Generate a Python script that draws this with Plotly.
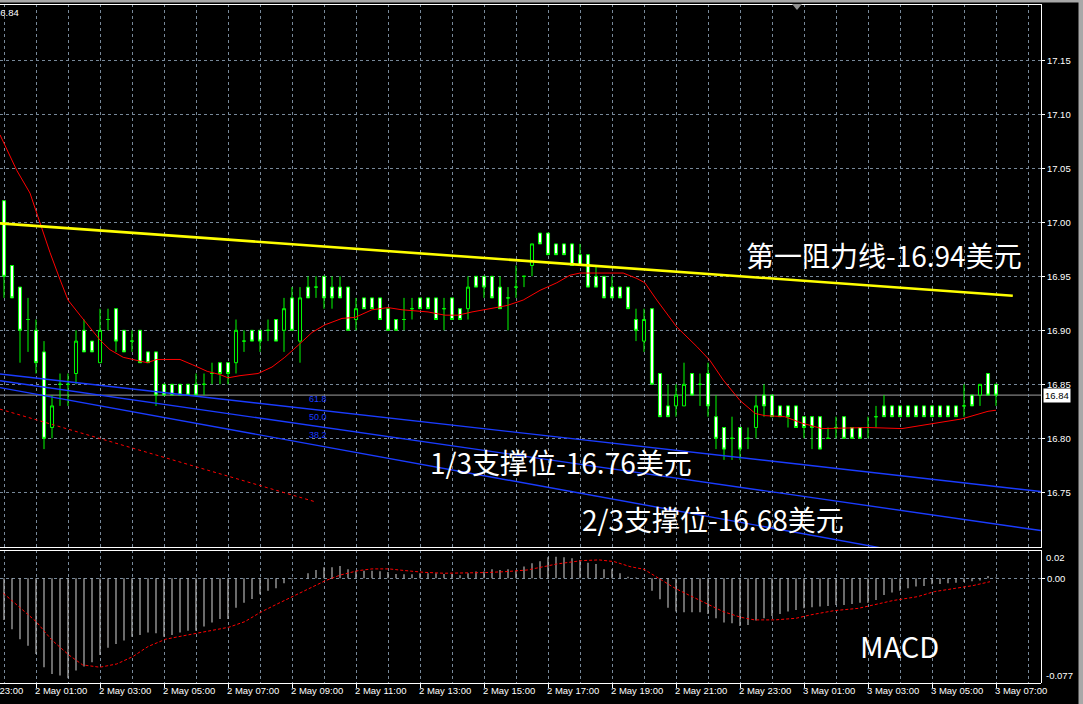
import plotly.graph_objects as go

W, H = 1083, 704

# ---------------- data (15-minute bars, bar 0 = 2 May 00:00) ----------------
bar_idx = list(range(125))
opens = [17.02, 16.96, 16.94, 16.91, 16.90, 16.88, 16.81, 16.85, 16.85, 16.86,
         16.90, 16.89, 16.87, 16.91, 16.92, 16.90, 16.89, 16.90, 16.88, 16.88,
         16.85, 16.85, 16.85, 16.85, 16.85, 16.85, 16.86, 16.87, 16.87, 16.87,
         16.89, 16.90, 16.90, 16.90, 16.91, 16.90, 16.93, 16.89, 16.94, 16.94,
         16.95, 16.94, 16.94, 16.94, 16.91, 16.93, 16.93, 16.93, 16.92, 16.91,
         16.91, 16.92, 16.93, 16.93, 16.93, 16.92, 16.93, 16.92, 16.92, 16.95,
         16.95, 16.95, 16.94, 16.93, 16.94, 16.95, 16.96, 16.99, 16.99, 16.98,
         16.98, 16.98, 16.97, 16.97, 16.95, 16.95, 16.94, 16.94, 16.94, 16.91,
         16.89, 16.92, 16.86, 16.83, 16.83, 16.83, 16.86, 16.85, 16.86, 16.82,
         16.81, 16.80, 16.81, 16.80, 16.81, 16.84, 16.84, 16.83, 16.83, 16.83,
         16.82, 16.82, 16.82, 16.80, 16.81, 16.82, 16.81, 16.81, 16.81, 16.82,
         16.83, 16.83, 16.83, 16.83, 16.83, 16.83, 16.83, 16.83, 16.83, 16.83,
         16.83, 16.84, 16.84, 16.86, 16.85]
highs = [17.02, 16.96, 16.94, 16.93, 16.91, 16.89, 16.84, 16.86, 16.86, 16.90,
         16.91, 16.89, 16.92, 16.92, 16.92, 16.90, 16.90, 16.90, 16.88, 16.88,
         16.85, 16.85, 16.85, 16.85, 16.86, 16.86, 16.87, 16.87, 16.87, 16.91,
         16.90, 16.90, 16.90, 16.91, 16.91, 16.93, 16.94, 16.94, 16.95, 16.95,
         16.95, 16.95, 16.95, 16.94, 16.93, 16.93, 16.93, 16.93, 16.92, 16.91,
         16.93, 16.93, 16.93, 16.93, 16.93, 16.93, 16.93, 16.92, 16.95, 16.95,
         16.95, 16.95, 16.95, 16.94, 16.96, 16.95, 16.98, 16.99, 16.99, 16.98,
         16.98, 16.98, 16.98, 16.97, 16.96, 16.95, 16.95, 16.94, 16.94, 16.92,
         16.92, 16.92, 16.86, 16.85, 16.85, 16.87, 16.86, 16.86, 16.87, 16.84,
         16.81, 16.82, 16.81, 16.81, 16.84, 16.85, 16.84, 16.83, 16.83, 16.83,
         16.82, 16.82, 16.82, 16.81, 16.82, 16.82, 16.81, 16.81, 16.82, 16.83,
         16.84, 16.83, 16.83, 16.83, 16.83, 16.83, 16.83, 16.83, 16.83, 16.83,
         16.85, 16.84, 16.85, 16.86, 16.85]
lows = [16.93, 16.93, 16.87, 16.88, 16.86, 16.79, 16.80, 16.83, 16.83, 16.85,
        16.88, 16.88, 16.87, 16.90, 16.88, 16.88, 16.88, 16.87, 16.87, 16.83,
        16.84, 16.84, 16.84, 16.84, 16.84, 16.84, 16.85, 16.85, 16.85, 16.86,
        16.88, 16.89, 16.88, 16.89, 16.89, 16.88, 16.90, 16.87, 16.93, 16.93,
        16.92, 16.92, 16.93, 16.90, 16.90, 16.92, 16.92, 16.91, 16.90, 16.90,
        16.90, 16.91, 16.92, 16.92, 16.91, 16.90, 16.91, 16.91, 16.91, 16.94,
        16.93, 16.93, 16.92, 16.90, 16.93, 16.94, 16.95, 16.98, 16.97, 16.97,
        16.97, 16.96, 16.96, 16.94, 16.94, 16.93, 16.93, 16.93, 16.92, 16.89,
        16.88, 16.85, 16.82, 16.82, 16.82, 16.83, 16.84, 16.83, 16.82, 16.79,
        16.78, 16.78, 16.78, 16.79, 16.80, 16.82, 16.82, 16.82, 16.81, 16.81,
        16.80, 16.79, 16.79, 16.80, 16.80, 16.80, 16.80, 16.80, 16.80, 16.81,
        16.82, 16.82, 16.82, 16.82, 16.82, 16.82, 16.82, 16.82, 16.82, 16.82,
        16.82, 16.83, 16.83, 16.84, 16.83]
closes = [16.95, 16.93, 16.90, 16.91, 16.87, 16.80, 16.83, 16.85, 16.85, 16.89,
          16.88, 16.88, 16.90, 16.91, 16.89, 16.88, 16.89, 16.87, 16.87, 16.84,
          16.84, 16.84, 16.84, 16.84, 16.84, 16.85, 16.86, 16.86, 16.86, 16.90,
          16.89, 16.89, 16.89, 16.90, 16.89, 16.92, 16.90, 16.93, 16.93, 16.94,
          16.93, 16.93, 16.93, 16.90, 16.92, 16.92, 16.92, 16.91, 16.90, 16.90,
          16.91, 16.92, 16.92, 16.92, 16.91, 16.92, 16.91, 16.91, 16.94, 16.94,
          16.94, 16.93, 16.92, 16.93, 16.94, 16.95, 16.98, 16.98, 16.97, 16.97,
          16.97, 16.96, 16.96, 16.94, 16.94, 16.93, 16.93, 16.93, 16.92, 16.90,
          16.91, 16.85, 16.82, 16.82, 16.84, 16.85, 16.84, 16.85, 16.83, 16.80,
          16.79, 16.80, 16.79, 16.80, 16.83, 16.83, 16.82, 16.82, 16.82, 16.81,
          16.81, 16.81, 16.79, 16.80, 16.81, 16.80, 16.80, 16.80, 16.81, 16.82,
          16.82, 16.82, 16.82, 16.82, 16.82, 16.82, 16.82, 16.82, 16.82, 16.82,
          16.83, 16.83, 16.85, 16.84, 16.84]

ma_idx = [-0.5, 1.6, 3.25, 4.5, 5.75, 7, 8, 9.5, 10.75, 12, 13.25, 14.9, 16.1, 17.9,
          19.1, 22, 23.6, 25.4, 27, 28, 29.5, 31.75, 33.5, 35.1, 36.75, 38.5, 40.1,
          42.25, 43.9, 46, 48, 49.75, 53, 55.1, 56.75, 58.5, 60.75, 62.9, 64.9, 67,
          69.1, 70.75, 72, 74.5, 77.4, 79.1, 80.1, 81.6, 84.1, 86.6, 88.25, 89.9, 92,
          93.9, 95.1, 97.6, 99.75, 102.25, 108, 112.25, 116.4, 119.75, 123, 124]
ma_val = [17.081, 17.048, 17.027, 16.999, 16.972, 16.947, 16.928, 16.914, 16.902,
          16.891, 16.882, 16.875, 16.873, 16.870, 16.873, 16.873, 16.868, 16.862,
          16.859, 16.856, 16.858, 16.860, 16.866, 16.875, 16.886, 16.898, 16.905,
          16.911, 16.912, 16.919, 16.921, 16.919, 16.917, 16.914, 16.914, 16.917,
          16.920, 16.923, 16.928, 16.937, 16.944, 16.951, 16.953, 16.953, 16.953,
          16.948, 16.944, 16.928, 16.903, 16.885, 16.872, 16.854, 16.835, 16.823,
          16.821, 16.820, 16.814, 16.809, 16.810, 16.809, 16.814, 16.818, 16.825,
          16.826]

resist_idx = [-0.5, 126.1]
resist_val = [16.999, 16.932]
fib_idx = [-0.5, 129.6]
fib_top = [16.8595, 16.7507]
fib_mid = [16.8533, 16.7146]
fib_low = [16.8469, 16.6716]
fib_labels = ["61.8", "50.0", "38.2"]
fib_label_val = [16.836, 16.820, 16.803]
fib_label_idx = 37.9
red_dash_idx = [-0.5, 39]
red_dash_val = [16.827, 16.741]

price_ticks = [16.75, 16.80, 16.85, 16.90, 16.95, 17.00, 17.05, 17.10, 17.15]
last_price = 16.84

macd_hist = [-0.0306, -0.0375, -0.0448, -0.0497, -0.0556, -0.0654, -0.0703, -0.0715, -0.0735, -0.0679,
             -0.0649, -0.0617, -0.0564, -0.0510, -0.0483, -0.0458, -0.0429, -0.0417, -0.0399, -0.0404,
             -0.0429, -0.0417, -0.0399, -0.0385, -0.0385, -0.0355, -0.0326, -0.0299, -0.0299, -0.0216,
             -0.0179, -0.0152, -0.0118, -0.0091, -0.0074, -0.0037, -0.0007, 0.0000, 0.0037, 0.0061,
             0.0081, 0.0081, 0.0091, 0.0066, 0.0056, 0.0056, 0.0056, 0.0051, 0.0047, 0.0032,
             0.0029, 0.0029, 0.0037, 0.0037, 0.0037, 0.0032, 0.0032, 0.0022, 0.0037, 0.0049,
             0.0049, 0.0066, 0.0061, 0.0066, 0.0056, 0.0086, 0.0110, 0.0125, 0.0154, 0.0159,
             0.0154, 0.0147, 0.0135, 0.0115, 0.0105, 0.0066, 0.0066, 0.0037, 0.0012, 0.0005,
             0.0002, -0.0091, -0.0154, -0.0216, -0.0245, -0.0250, -0.0250, -0.0250, -0.0262, -0.0294,
             -0.0326, -0.0331, -0.0350, -0.0343, -0.0311, -0.0294, -0.0277, -0.0262, -0.0245, -0.0233,
             -0.0221, -0.0213, -0.0208, -0.0203, -0.0196, -0.0196, -0.0189, -0.0179, -0.0179, -0.0159,
             -0.0123, -0.0105, -0.0091, -0.0074, -0.0061, -0.0056, -0.0044, -0.0042, -0.0037, -0.0032,
             -0.0027, -0.0022, -0.0017, 0.0017, 0.0005]
sig_idx = [-0.08, 2.09, 4.03, 5.96, 8.11, 9.83, 11.99, 14.1, 16.1, 18.0, 20.2, 22.3, 24.0,
           26.2, 28.1, 30.1, 32.0, 33.9, 36.1, 38.25, 40.2, 42.1, 44.25, 46.0, 48.1, 50.25,
           52.45, 55.0, 57.6, 60.2, 62.75, 65.4, 67.0, 69.1, 72.2, 74.4, 76.25, 78.25, 80.0,
           81.9, 83.9, 85.6, 87.75, 89.9, 92.1, 93.8, 96.4, 99.0, 100.75, 103.75, 106.8,
           108.55, 111.1, 114.2, 116.3, 118.9, 121.1, 123.25]
sig_val = [-0.0110, -0.0221, -0.0319, -0.0453, -0.0564, -0.0637, -0.0654, -0.0630, -0.0576,
           -0.0502, -0.0448, -0.0424, -0.0404, -0.0380, -0.0360, -0.0319, -0.0252, -0.0196,
           -0.0135, -0.0074, -0.0017, 0.0025, 0.0056, 0.0069, 0.0069, 0.0056, 0.0044, 0.0037,
           0.0037, 0.0042, 0.0049, 0.0061, 0.0080, 0.0105, 0.0130, 0.0135, 0.0123, 0.0086,
           0.0066, 0.0000, -0.0074, -0.0123, -0.0184, -0.0245, -0.0287, -0.0306, -0.0306,
           -0.0294, -0.0270, -0.0238, -0.0221, -0.0196, -0.0164, -0.0135, -0.0098, -0.0074,
           -0.0054, -0.0025]
macd_max, macd_min = 0.0208, -0.0770

time_tick_idx = [4, 12, 20, 28, 36, 44, 52, 60, 68, 76, 84, 92, 100, 108, 116, 124]
time_labels = ["2 May 01:00", "2 May 03:00", "2 May 05:00", "2 May 07:00", "2 May 09:00",
               "2 May 11:00", "2 May 13:00", "2 May 15:00", "2 May 17:00", "2 May 19:00",
               "2 May 21:00", "2 May 23:00", "3 May 01:00", "3 May 03:00", "3 May 05:00",
               "3 May 07:00"]
first_label = "1 May 23:00"

# ---------------- layout geometry ----------------
def px_x(px):
    return px / W

def px_y(py):
    return 1 - py / H

Y17, PPU = 222.3, 1080.0          # pixel row of 17.00 and pixels per price unit
MAIN_TOP, MAIN_BOT = 4, 548
MACD_TOP, MACD_BOT = 550, 683
PLOT_RIGHT = 1041
x_range = [-0.5, (PLOT_RIGHT - 4) / 8]
y_range = [17 - (MAIN_BOT - Y17) / PPU, 17 + (Y17 - MAIN_TOP) / PPU]

GRID = "#778899"
GREEN = "#00ff00"
BLUE = "#1a3cff"
AXF = dict(family="Liberation Sans, Arial, sans-serif", size=9.5, color="white")
CJK = dict(family="Noto Sans CJK SC, Noto Sans, sans-serif", size=28, color="white")

fig = go.Figure()

fig.add_trace(go.Candlestick(
    x=bar_idx, open=opens, high=highs, low=lows, close=closes,
    increasing=dict(line=dict(color=GREEN, width=1), fillcolor="black"),
    decreasing=dict(line=dict(color=GREEN, width=1), fillcolor="white"),
    whiskerwidth=0, xaxis="x", yaxis="y", showlegend=False, hoverinfo="skip"))

fig.add_trace(go.Scatter(x=ma_idx, y=ma_val, mode="lines", line=dict(color="#ff0000", width=1),
                         xaxis="x", yaxis="y", showlegend=False, hoverinfo="skip"))
fig.add_trace(go.Scatter(x=resist_idx, y=resist_val, mode="lines", line=dict(color="#ffff00", width=2.6),
                         xaxis="x", yaxis="y", showlegend=False, hoverinfo="skip"))
for vals in (fib_top, fib_mid, fib_low):
    fig.add_trace(go.Scatter(x=fib_idx, y=vals, mode="lines", line=dict(color=BLUE, width=1.4),
                             xaxis="x", yaxis="y", showlegend=False, hoverinfo="skip"))
fig.add_trace(go.Scatter(x=red_dash_idx, y=red_dash_val, mode="lines",
                         line=dict(color="#ff0000", width=1, dash="3px,3px"),
                         xaxis="x", yaxis="y", showlegend=False, hoverinfo="skip"))

fig.add_trace(go.Bar(x=bar_idx, y=macd_hist, width=0.14, marker=dict(color="#c0c0c0", line=dict(width=0)),
                     xaxis="x2", yaxis="y2", showlegend=False, hoverinfo="skip"))
fig.add_trace(go.Scatter(x=sig_idx, y=sig_val, mode="lines",
                         line=dict(color="#ff0000", width=1, dash="3px,2px"),
                         xaxis="x2", yaxis="y2", showlegend=False, hoverinfo="skip"))

shapes = []
# current price line
shapes.append(dict(type="line", xref="paper", yref="y", x0=0, x1=px_x(PLOT_RIGHT),
                   y0=last_price, y1=last_price, line=dict(color="#a0a0a0", width=1), layer="between"))
# panel borders
for py in (MAIN_TOP + 0.5, MAIN_BOT - 0.5, MACD_TOP + 0.5, MACD_BOT + 0.5):
    shapes.append(dict(type="line", xref="paper", yref="paper", x0=0, x1=px_x(PLOT_RIGHT),
                       y0=px_y(py), y1=px_y(py), line=dict(color="white", width=1)))
# window frame pieces
shapes.append(dict(type="rect", xref="paper", yref="paper", x0=0, x1=1, y0=px_y(2.5), y1=1,
                   fillcolor="#a8a8a8", line=dict(width=0)))
shapes.append(dict(type="rect", xref="paper", yref="paper", x0=px_x(1078.5), x1=1, y0=0, y1=1,
                   fillcolor="#a8a8a8", line=dict(width=0)))
tri = "M {} {} L {} {} L {} {} Z".format(px_x(792), px_y(4), px_x(802), px_y(4), px_x(797), px_y(10))
shapes.append(dict(type="path", xref="paper", yref="paper", path=tri, fillcolor="#909090",
                   line=dict(width=0)))

annotations = []
annotations.append(dict(text="第一阻力线-16.94美元", x=92.5, y=16.970, xref="x", yref="y",
                        xanchor="left", yanchor="middle", showarrow=False, font=CJK))
annotations.append(dict(text="1/3支撑位-16.76美元", x=53.0, y=16.778, xref="x", yref="y",
                        xanchor="left", yanchor="middle", showarrow=False, font=CJK))
annotations.append(dict(text="2/3支撑位-16.68美元", x=72.0, y=16.725, xref="x", yref="y",
                        xanchor="left", yanchor="middle", showarrow=False, font=CJK))
annotations.append(dict(text="MACD", x=106.8, y=-0.049, xref="x2", yref="y2",
                        xanchor="left", yanchor="middle", showarrow=False,
                        font=dict(family=CJK["family"], size=29, color="white")))
for lab, v in zip(fib_labels, fib_label_val):
    annotations.append(dict(text=lab, x=fib_label_idx, y=v, xref="x", yref="y", xanchor="left",
                            yanchor="middle", showarrow=False,
                            font=dict(family=AXF["family"], size=9, color=BLUE)))
# last price box on the axis
annotations.append(dict(text=f"{last_price:.2f}", x=px_x(1043), y=last_price, xref="paper", yref="y",
                        xanchor="left", yanchor="middle", showarrow=False, bgcolor="white",
                        borderpad=1, font=dict(family=AXF["family"], size=9.5, color="black")))
# top-left price text
annotations.append(dict(text=f"{last_price:.2f}", x=px_x(21), y=px_y(12.5), xref="paper", yref="paper",
                        xanchor="right", yanchor="middle", showarrow=False, font=AXF))
# MACD scale extremes
annotations.append(dict(text="0.02", x=px_x(1044), y=macd_max, xref="paper", yref="y2",
                        xanchor="left", yanchor="top", showarrow=False, font=AXF))
annotations.append(dict(text="-0.077", x=px_x(1044), y=macd_min, xref="paper", yref="y2",
                        xanchor="left", yanchor="bottom", showarrow=False, font=AXF))
# time labels
annotations.append(dict(text=first_label, x=px_x(4 + 8 * (-4) - 3), y=px_y(690), xref="paper",
                        yref="paper", xanchor="left", yanchor="middle", showarrow=False, font=AXF))
for i, lab in zip(time_tick_idx, time_labels):
    annotations.append(dict(text=lab, x=i, y=px_y(690), xref="x2", yref="paper", xanchor="left",
                            yanchor="middle", xshift=-3, showarrow=False, font=AXF))

grid_idx = list(range(0, 129, 4))
fig.update_layout(
    width=W, height=H, margin=dict(l=0, r=0, t=0, b=0),
    paper_bgcolor="black", plot_bgcolor="black", showlegend=False,
    boxgap=0.45,
    xaxis=dict(domain=[0, px_x(PLOT_RIGHT)], range=x_range, anchor="y", tickvals=grid_idx,
               showticklabels=False, ticks="", showgrid=True, gridcolor=GRID, griddash="3px,3px",
               gridwidth=1, zeroline=False, showline=False, rangeslider=dict(visible=False)),
    yaxis=dict(domain=[px_y(MAIN_BOT), px_y(MAIN_TOP)], range=y_range, anchor="x", side="right",
               tickvals=price_ticks, ticktext=[f"{v:.2f}" for v in price_ticks], ticks="outside",
               ticklen=3, tickcolor="white", tickfont=AXF, showline=True, linecolor="white",
               linewidth=1, showgrid=True, gridcolor=GRID, griddash="3px,3px", gridwidth=1,
               zeroline=False),
    xaxis2=dict(domain=[0, px_x(PLOT_RIGHT)], range=x_range, anchor="y2", tickvals=time_tick_idx,
                showticklabels=False, ticks="outside", ticklen=4, tickcolor="white",
                showgrid=True, gridcolor=GRID, griddash="3px,3px", gridwidth=1, zeroline=False,
                showline=False,
                minor=dict(tickmode="array", tickvals=list(range(0, 129, 8)), showgrid=True,
                           gridcolor=GRID, griddash="3px,3px", gridwidth=1, ticks="")),
    yaxis2=dict(domain=[px_y(MACD_BOT), px_y(MACD_TOP)], range=[macd_min, macd_max], anchor="x2",
                side="right", tickvals=[0], ticktext=["0.00"], ticks="outside", ticklen=3,
                tickcolor="white", tickfont=AXF, showline=True, linecolor="white", linewidth=1,
                showgrid=True, gridcolor=GRID, griddash="3px,3px", gridwidth=1, zeroline=False),
    shapes=shapes, annotations=annotations,
)

fig.write_html("out.html", config={"displayModeBar": False, "staticPlot": True},
               post_script="document.body.style.margin='0px';document.body.style.overflow='hidden';")
